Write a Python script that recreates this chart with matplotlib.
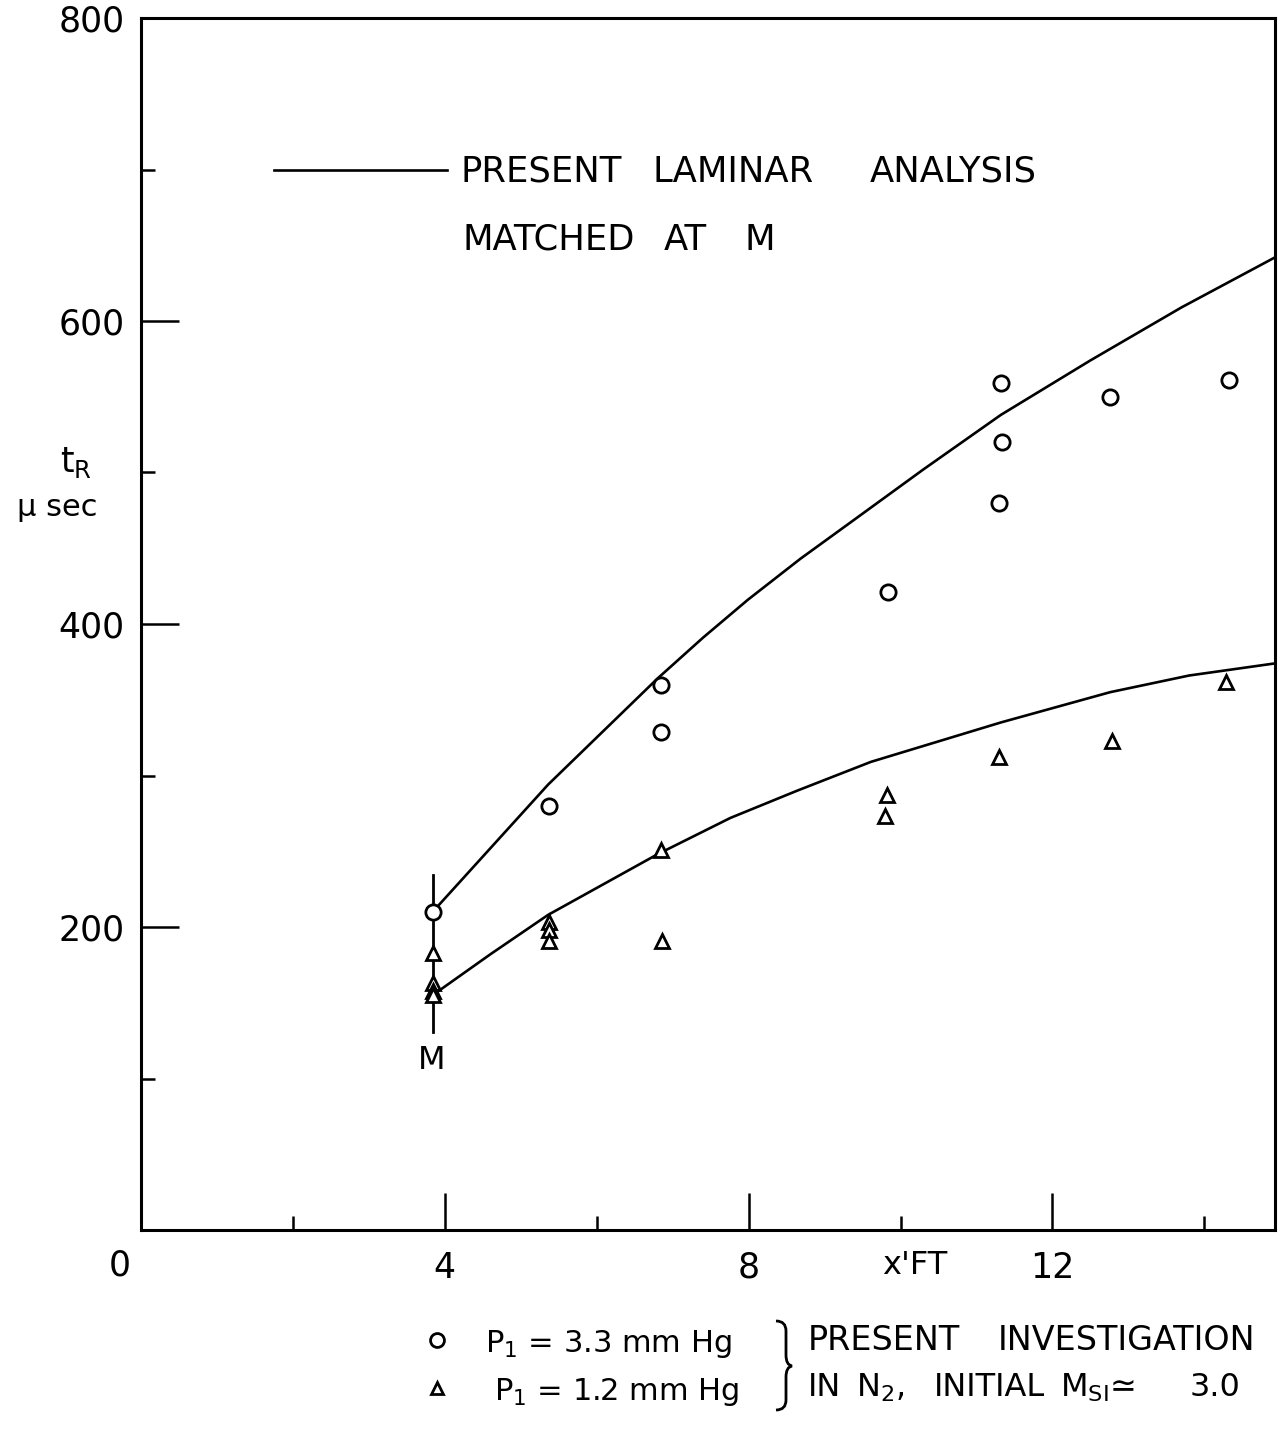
import matplotlib
matplotlib.use("Agg")
import matplotlib.pyplot as plt
from matplotlib.path import Path
from matplotlib.patches import PathPatch

plt.rcParams['font.family'] = ['DejaVu Sans']
plt.rcParams['mathtext.fontset'] = 'dejavusans'

# ---- data ----
circle_x = [3.84, 5.37, 6.84, 6.84, 9.84, 11.32, 11.34, 11.30, 12.76, 14.33]
circle_y = [210, 280, 360, 329, 421, 559, 520, 480, 550, 561]

tri_x = [3.84, 3.84, 3.84, 3.84, 5.37, 5.37, 5.37, 6.84, 6.86, 9.82, 9.79, 11.29, 12.78, 14.29]
tri_y = [183, 163, 158, 155, 203, 198, 191, 251, 191, 287, 273, 312, 323, 362]

upper_x = [3.84, 4.60, 5.36, 6.80, 7.40, 7.99, 8.68, 9.34, 10.30, 11.32, 12.50, 13.70, 14.93]
upper_y = [210, 252, 294, 364, 391, 416, 443, 467, 502, 538, 574, 609, 642]

lower_x = [3.84, 4.60, 5.36, 6.80, 7.76, 8.64, 9.61, 11.32, 12.76, 13.80, 14.93]
lower_y = [155, 182, 208, 248, 272, 290, 309, 335, 355, 366, 374]

match_x = 3.84
match_y = [131, 234]

y_major = [0, 200, 400, 600, 800]
y_major_labels = ['', '200', '400', '600', '800']
y_minor = [100, 300, 500, 700]
x_major = [4, 8, 12]
x_major_labels = ['4', '8', '12']
x_minor = [2, 6, 10, 14]

W, H = 1280, 1449
fig = plt.figure(figsize=(W / 100, H / 100), dpi=100)
ax = fig.add_axes([141 / W, 1 - 1230 / H, (1275 - 141) / W, (1230 - 18) / H])
ax.set_xlim(0, 14.93)
ax.set_ylim(0, 800)

for s in ax.spines.values():
    s.set_linewidth(2.2)
    s.set_color('black')

ax.set_yticks(y_major)
ax.set_yticklabels(y_major_labels)
ax.set_yticks(y_minor, minor=True)
ax.set_xticks(x_major)
ax.set_xticklabels(x_major_labels)
ax.set_xticks(x_minor, minor=True)
ax.tick_params(which='major', direction='in', length=27, width=1.8,
               labelsize=25, pad=15)
ax.tick_params(which='minor', direction='in', length=10, width=1.8)
ax.tick_params(axis='y', which='major', pad=12)

# curves
ax.plot(upper_x, upper_y, color='black', lw=1.9, solid_joinstyle='round')
ax.plot(lower_x, lower_y, color='black', lw=1.9, solid_joinstyle='round')
# matching marker line
ax.plot([match_x, match_x], match_y, color='black', lw=2.0)

# data points
ax.plot(circle_x, circle_y, linestyle='none', marker='o', markersize=11,
        markerfacecolor='white', markeredgecolor='black', markeredgewidth=2.0)
ax.plot(tri_x, tri_y, linestyle='none', marker='^', markersize=10,
        markerfacecolor='white', markeredgecolor='black', markeredgewidth=2.0)

ax.text(3.82, 112, 'M', fontsize=23, ha='center', va='center')

# in-plot legend for the curves
ax.plot([1.75, 4.03], [700, 700], color='black', lw=1.9)


def ftext(x, y, s, **kw):
    fig.text(x / W, 1 - y / H, s, **kw)


def words(items, y, size):
    for x, w in items:
        ftext(x, y, w, fontsize=size, ha='left', va='center_baseline')


words([(460, 'PRESENT'), (652, 'LAMINAR'), (870, 'ANALYSIS')], 168, 25.5)
words([(462, 'MATCHED'), (664, 'AT'), (745, 'M')], 236, 25.5)

# axis labels and origin label
ftext(120, 1265, '0', fontsize=25, ha='center', va='center')
ftext(915, 1265, "x'FT", fontsize=23, ha='center', va='center')
ftext(76, 463, r't$_{\mathrm{R}}$', fontsize=25, ha='center', va='center')
ftext(57, 508, 'μ sec', fontsize=22, ha='center', va='center')

# bottom legend
leg_marker = dict(linestyle='none', markerfacecolor='white',
                  markeredgecolor='black', markeredgewidth=2.0,
                  transform=fig.transFigure, clip_on=False)
fig.lines.append(plt.Line2D([437 / W], [1 - 1340 / H], marker='o', markersize=10,
                            **leg_marker))
fig.lines.append(plt.Line2D([437 / W], [1 - 1388 / H], marker='^', markersize=8,
                            **leg_marker))
ftext(485, 1340, r'P$_{\mathrm{1}}$ = 3.3 mm Hg', fontsize=22, ha='left', va='center_baseline')
ftext(494, 1388, r'P$_{\mathrm{1}}$ = 1.2 mm Hg', fontsize=22, ha='left', va='center_baseline')
words([(808, 'PRESENT'), (998, 'INVESTIGATION')], 1337, 24)
words([(808, 'IN'), (856, r'N$_{\mathrm{2}}$,'), (934, 'INITIAL'),
       (1060, r'M$_{\mathrm{SI}}$≃'), (1190, '3.0')], 1384, 23)

# brace
def P(x, y):
    return (x / W, 1 - y / H)


verts = [P(776, 1321), P(786, 1321), P(786, 1331), P(786, 1355),
         P(786, 1365), P(792, 1366),
         P(786, 1367), P(786, 1377), P(786, 1400),
         P(786, 1410), P(776, 1410)]
codes = [Path.MOVETO, Path.CURVE3, Path.CURVE3, Path.LINETO,
         Path.CURVE3, Path.CURVE3,
         Path.CURVE3, Path.CURVE3, Path.LINETO,
         Path.CURVE3, Path.CURVE3]
fig.patches.append(PathPatch(Path(verts, codes), transform=fig.transFigure,
                             facecolor='none', edgecolor='black', lw=2.0))

fig.savefig('out.png', dpi=100, facecolor='white')
